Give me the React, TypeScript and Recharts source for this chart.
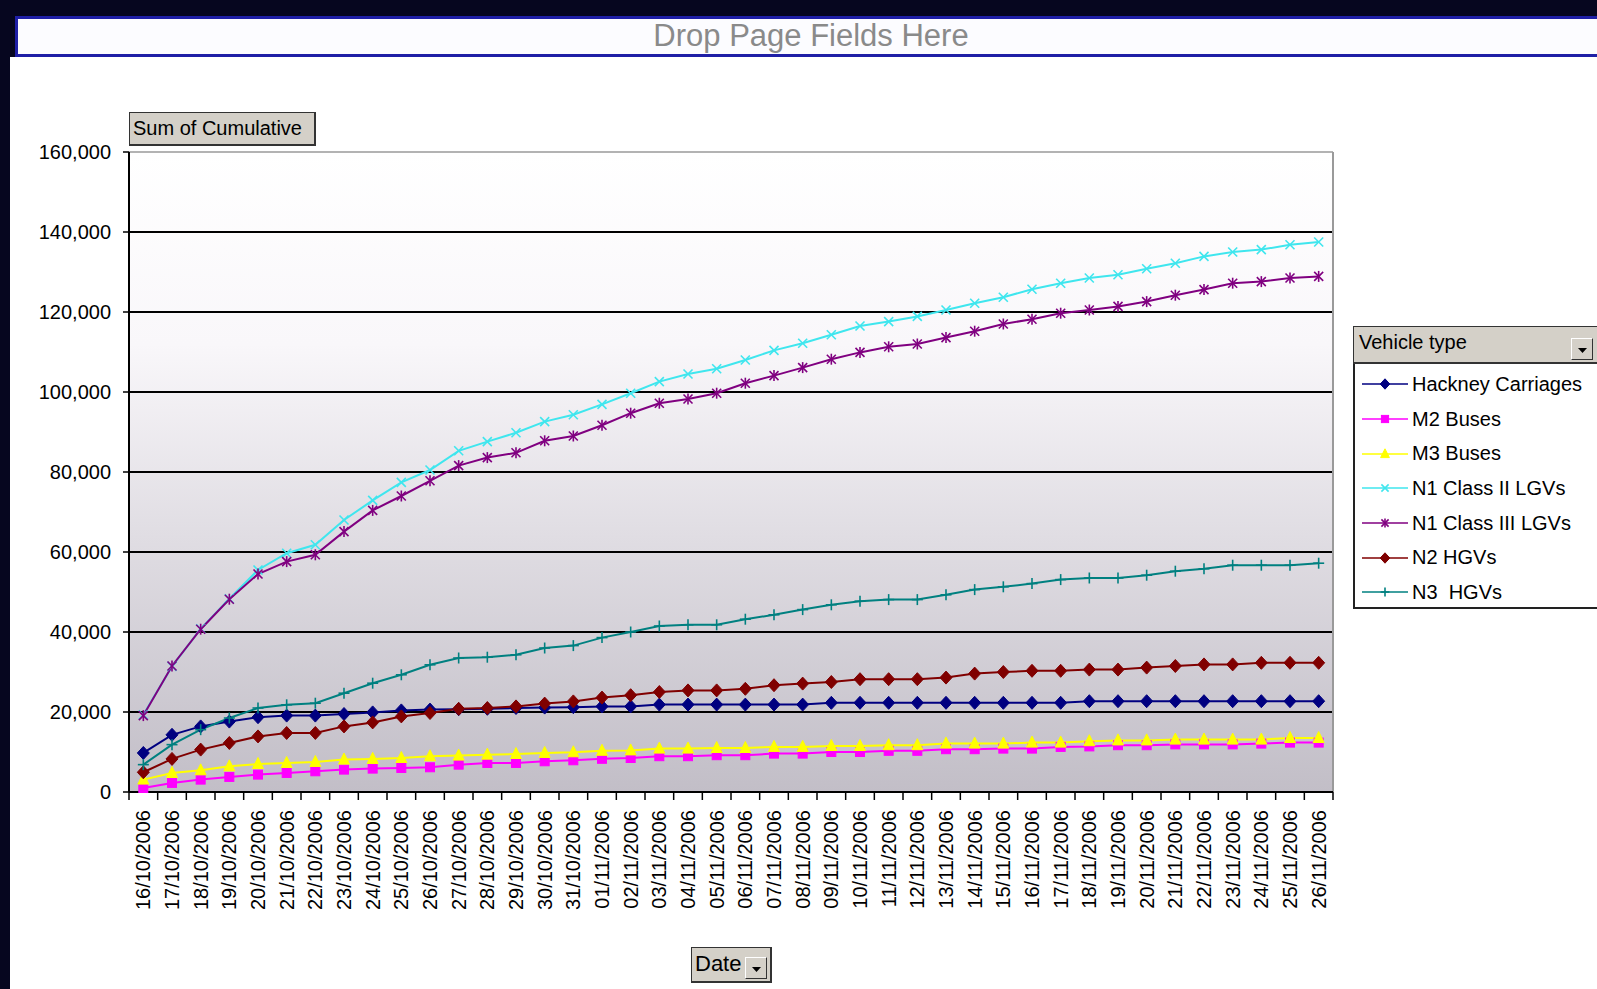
import { LineChart, Line, XAxis, YAxis, CartesianGrid, ReferenceLine } from "recharts";

// categories
const DATES = [
  "16/10/2006", "17/10/2006", "18/10/2006", "19/10/2006", "20/10/2006", "21/10/2006", "22/10/2006",
  "23/10/2006", "24/10/2006", "25/10/2006", "26/10/2006", "27/10/2006", "28/10/2006", "29/10/2006",
  "30/10/2006", "31/10/2006", "01/11/2006", "02/11/2006", "03/11/2006", "04/11/2006", "05/11/2006",
  "06/11/2006", "07/11/2006", "08/11/2006", "09/11/2006", "10/11/2006", "11/11/2006", "12/11/2006",
  "13/11/2006", "14/11/2006", "15/11/2006", "16/11/2006", "17/11/2006", "18/11/2006", "19/11/2006",
  "20/11/2006", "21/11/2006", "22/11/2006", "23/11/2006", "24/11/2006", "25/11/2006", "26/11/2006",
];

// series values (Sum of Cumulative)
const HACKNEY = [
  9760, 14300, 16400, 17600, 18700, 19100, 19100, 19500, 19900, 20400, 20600, 20700, 20800, 21000,
  21100, 21200, 21400, 21400, 21850, 21850, 21850, 21850, 21850, 21850, 22300, 22300, 22300, 22300,
  22300, 22300, 22300, 22300, 22300, 22700, 22700, 22700, 22700, 22700, 22700, 22700, 22700, 22700,
];
const M2_BUSES = [
  1000, 2270, 3100, 3770, 4350, 4760, 5180, 5600, 5850, 6010, 6180, 6840, 7260, 7260,
  7680, 7930, 8300, 8500, 8950, 8950, 9200, 9200, 9600, 9600, 10000, 10000, 10300, 10300,
  10700, 10700, 10850, 10850, 11270, 11400, 11700, 11700, 11900, 11900, 11900, 12100, 12350, 12350,
];
const M3_BUSES = [
  3100, 4760, 5420, 6420, 7000, 7260, 7510, 8100, 8270, 8500, 8930, 9100, 9340, 9500,
  9760, 9930, 10300, 10400, 10850, 10850, 11000, 11000, 11270, 11270, 11500, 11500, 11700, 11700,
  12100, 12100, 12100, 12350, 12350, 12700, 12900, 12900, 13100, 13100, 13100, 13100, 13500, 13500,
];
const N1_CLASS2 = [
  19300, 31400, 40800, 48300, 55500, 59700, 61800, 68000, 72900, 77400, 80500, 85300, 87600, 89800,
  92600, 94300, 96900, 99700, 102600, 104500, 105800, 108000, 110400, 112200, 114300, 116500, 117600, 118900,
  120500, 122200, 123700, 125700, 127200, 128500, 129300, 130800, 132200, 133900, 135000, 135600, 136800, 137500,
];
const N1_CLASS3 = [
  19100, 31500, 40700, 48200, 54500, 57600, 59300, 65100, 70400, 74000, 77800, 81600, 83600, 84800,
  87800, 89000, 91700, 94700, 97200, 98250, 99700, 102200, 104100, 106100, 108200, 109900, 111300, 112000,
  113600, 115200, 117000, 118200, 119700, 120500, 121400, 122600, 124200, 125600, 127200, 127600, 128500, 128900,
];
const N2_HGVS = [
  4930, 8270, 10600, 12260, 13900, 14760, 14760, 16400, 17400, 18900, 19750, 20800, 21000, 21400,
  22100, 22650, 23600, 24200, 25000, 25400, 25400, 25800, 26700, 27100, 27500, 28200, 28200, 28200,
  28600, 29600, 30000, 30300, 30300, 30600, 30600, 31100, 31500, 31900, 31900, 32300, 32300, 32300,
];
const N3_HGVS = [
  6840, 11840, 15580, 18500, 21000, 21800, 22200, 24700, 27200, 29300, 31800, 33500, 33700, 34300,
  36000, 36600, 38600, 40000, 41500, 41800, 41800, 43200, 44300, 45600, 46800, 47700, 48100, 48100,
  49300, 50600, 51300, 52100, 53100, 53500, 53500, 54200, 55200, 55800, 56700, 56700, 56700, 57200,
];

const Y_TICKS = [0, 20000, 40000, 60000, 80000, 100000, 120000, 140000, 160000];

const SERIES = [
  { key: "hackney", name: "Hackney Carriages", values: HACKNEY, color: "#000080", shape: "diamond" },
  { key: "m2", name: "M2 Buses", values: M2_BUSES, color: "#ff00ff", shape: "square" },
  { key: "m3", name: "M3 Buses", values: M3_BUSES, color: "#ffff00", shape: "triangle" },
  { key: "n1c2", name: "N1 Class II LGVs", values: N1_CLASS2, color: "#3fe6ee", shape: "x" },
  { key: "n1c3", name: "N1 Class III LGVs", values: N1_CLASS3, color: "#800080", shape: "star" },
  { key: "n2", name: "N2 HGVs", values: N2_HGVS, color: "#800000", shape: "diamond" },
  { key: "n3", name: "N3  HGVs", values: N3_HGVS, color: "#008080", shape: "plus" },
];

const data = DATES.map((d, i) => {
  const row: Record<string, number | string> = { idx: i, date: d };
  SERIES.forEach((s) => { row[s.key] = s.values[i]; });
  return row;
});

// layout
const W = 1597;
const H = 989;
const PLOT_LEFT = 129;
const PLOT_RIGHT = 1333;
const PLOT_TOP = 152;
const PLOT_BOTTOM = 792;
const Y_AXIS_W = 100;
const X_AXIS_H = 120;
const HALF_STEP = (PLOT_RIGHT - PLOT_LEFT) / DATES.length / 2;
const FONT = "'Liberation Sans', Arial, sans-serif";

function Marker({ shape, cx, cy, color, scale = 1 }: { shape: string; cx: number; cy: number; color: string; scale?: number }) {
  if (cx == null || cy == null) return null;
  const k = scale;
  switch (shape) {
    case "diamond":
      return <polygon points={`${cx},${cy - 6.5 * k} ${cx + 6 * k},${cy} ${cx},${cy + 6.5 * k} ${cx - 6 * k},${cy}`} fill={color} stroke={color} />;
    case "square":
      return <rect x={cx - 4.5 * k} y={cy - 4.5 * k} width={9 * k} height={9 * k} fill={color} stroke={color} />;
    case "triangle":
      return <polygon points={`${cx},${cy - 6.5 * k} ${cx + 5.5 * k},${cy + 4.5 * k} ${cx - 5.5 * k},${cy + 4.5 * k}`} fill={color} stroke={color} />;
    case "x":
      return (
        <g stroke={color} strokeWidth={1.6}>
          <line x1={cx - 4.5 * k} y1={cy - 4.5 * k} x2={cx + 4.5 * k} y2={cy + 4.5 * k} />
          <line x1={cx - 4.5 * k} y1={cy + 4.5 * k} x2={cx + 4.5 * k} y2={cy - 4.5 * k} />
        </g>
      );
    case "star":
      return (
        <g stroke={color} strokeWidth={1.6}>
          <line x1={cx - 4.5 * k} y1={cy - 4.5 * k} x2={cx + 4.5 * k} y2={cy + 4.5 * k} />
          <line x1={cx - 4.5 * k} y1={cy + 4.5 * k} x2={cx + 4.5 * k} y2={cy - 4.5 * k} />
          <line x1={cx} y1={cy - 5.5 * k} x2={cx} y2={cy + 5.5 * k} />
        </g>
      );
    case "plus":
      return (
        <g stroke={color} strokeWidth={1.6}>
          <line x1={cx - 5.5 * k} y1={cy} x2={cx + 5.5 * k} y2={cy} />
          <line x1={cx} y1={cy - 5.5 * k} x2={cx} y2={cy + 5.5 * k} />
        </g>
      );
    default:
      return null;
  }
}

function DateTick(props: any) {
  const { x, y, payload } = props;
  const i = payload.value as number;
  return (
    <g>
      <line x1={x - HALF_STEP} x2={x - HALF_STEP} y1={y} y2={y + 8} stroke="#000" strokeWidth={1.5} />
      {i === DATES.length - 1 && (
        <line x1={x + HALF_STEP} x2={x + HALF_STEP} y1={y} y2={y + 8} stroke="#000" strokeWidth={1.5} />
      )}
      <text
        transform={`translate(${x + 7},${y + 18}) rotate(-90)`}
        textAnchor="end"
        fontSize={20}
        fontFamily={FONT}
        fill="#000"
      >
        {DATES[i]}
      </text>
    </g>
  );
}

function DropArrow({ right, top, size }: { right: number; top: number; size: number }) {
  return (
    <div
      style={{
        position: "absolute", right, top, width: size, height: size, boxSizing: "border-box",
        background: "#d4d0c8", borderTop: "1px solid #fff", borderLeft: "1px solid #fff",
        borderRight: "1px solid #333", borderBottom: "1px solid #333",
      }}
    >
      <svg width={size - 2} height={size - 2} style={{ display: "block" }}>
        <polygon points={`${size / 2 - 5},${size / 2 - 2} ${size / 2 + 4},${size / 2 - 2} ${size / 2 - 0.5},${size / 2 + 3}`} fill="#000" />
      </svg>
    </div>
  );
}

function VehicleLegend() {
  return (
    <div style={{ position: "absolute", left: 1353, top: 326, width: 246, fontFamily: FONT, fontSize: 20, color: "#000" }}>
      <div
        style={{
          height: 38, background: "#d4d0c8", border: "1px solid #333", borderRightWidth: 2, borderBottomWidth: 2,
          position: "relative", boxSizing: "border-box", paddingLeft: 5, lineHeight: "31px",
        }}
      >
        Vehicle type
        <DropArrow right={4} top={11} size={22} />
      </div>
      <div style={{ background: "#fff", border: "2px solid #222", borderTop: "none", padding: "3px 0 4px 0", boxSizing: "border-box", height: 245 }}>
        {SERIES.map((s) => (
          <div key={s.key} style={{ height: 34.7, display: "flex", alignItems: "center" }}>
            <svg width={57} height={20} style={{ flex: "none" }}>
              <line x1={7} x2={53} y1={10} y2={10} stroke={s.color} strokeWidth={1.5} />
              <Marker shape={s.shape} cx={30} cy={10} color={s.color} scale={0.8} />
            </svg>
            <span style={{ whiteSpace: "pre" }}>{s.name}</span>
          </div>
        ))}
      </div>
    </div>
  );
}

export default function App() {
  return (
    <div style={{ position: "absolute", left: 0, top: 0, width: W, height: H, overflow: "hidden", background: "#fff", fontFamily: FONT }}>
      {/* dark frame */}
      <div style={{ position: "absolute", left: 0, top: 0, width: W, height: 16, background: "#06061f" }} />
      <div style={{ position: "absolute", left: 0, top: 0, width: 10, height: H, background: "#06061f" }} />
      <div style={{ position: "absolute", left: 10, top: 16, width: 5, height: 41, background: "#06061f" }} />

      {/* page field drop zone */}
      <div
        style={{
          position: "absolute", left: 15, top: 16, width: 1592, height: 41, boxSizing: "border-box",
          border: "3px solid #1f1fa6", background: "#fcfcff", color: "#8a8a8a", fontSize: 31,
          textAlign: "center", lineHeight: "34px",
        }}
      >
        Drop Page Fields Here
      </div>

      <LineChart
        width={W}
        height={H}
        data={data}
        style={{ position: "absolute", left: 0, top: 0 }}
        margin={{ top: PLOT_TOP, right: W - PLOT_RIGHT, bottom: H - PLOT_BOTTOM - X_AXIS_H, left: PLOT_LEFT - Y_AXIS_W }}
      >
        <defs>
          <linearGradient id="plotBg" x1="0" y1="0" x2="0" y2="1">
            <stop offset="0%" stopColor="#ffffff" />
            <stop offset="30%" stopColor="#f9f7fa" />
            <stop offset="60%" stopColor="#e0dde3" />
            <stop offset="100%" stopColor="#c2bec7" />
          </linearGradient>
        </defs>
        <CartesianGrid horizontal={false} vertical={false} stroke="none" fill="url(#plotBg)" />
        <XAxis
          dataKey="idx"
          type="number"
          domain={[-0.5, DATES.length - 0.5]}
          ticks={DATES.map((_, i) => i)}
          interval={0}
          height={X_AXIS_H}
          tickSize={0}
          tickMargin={0}
          tickLine={false}
          axisLine={{ stroke: "#000", strokeWidth: 2 }}
          tick={<DateTick />}
          allowDataOverflow
        />
        <YAxis
          domain={[0, 160000]}
          ticks={Y_TICKS}
          interval={0}
          width={Y_AXIS_W}
          tickSize={6}
          tickMargin={12}
          tickLine={{ stroke: "#000", strokeWidth: 1.5 }}
          axisLine={{ stroke: "#000", strokeWidth: 2 }}
          tick={{ fill: "#000", fontSize: 20, fontFamily: FONT }}
          tickFormatter={(v: number) => v.toLocaleString("en-US")}
        />
        {Y_TICKS.slice(1, -1).map((v) => (
          <ReferenceLine key={v} y={v} stroke="#000" strokeWidth={2} />
        ))}
        <ReferenceLine y={160000} stroke="#9a9a9a" strokeWidth={1.5} />
        <ReferenceLine x={DATES.length - 0.5} stroke="#9a9a9a" strokeWidth={2} />
        {SERIES.map((s) => (
          <Line
            key={s.key}
            dataKey={s.key}
            name={s.name}
            type="linear"
            stroke={s.color}
            strokeWidth={2}
            isAnimationActive={false}
            activeDot={false}
            dot={(p: any) => <Marker key={`${s.key}-${p.index}`} shape={s.shape} cx={p.cx} cy={p.cy} color={s.color} />}
          />
        ))}
      </LineChart>

      <VehicleLegend />

      {/* data field button */}
      <div
        style={{
          position: "absolute", left: 129, top: 112, width: 187, height: 34, boxSizing: "border-box",
          background: "#d4d0c8", border: "1px solid #333", borderRightWidth: 2, borderBottomWidth: 2,
          fontSize: 20, lineHeight: "31px", paddingLeft: 3, color: "#000", whiteSpace: "nowrap",
        }}
      >
        Sum of Cumulative
      </div>

      {/* category field button */}
      <div
        style={{
          position: "absolute", left: 691, top: 947, width: 81, height: 36, boxSizing: "border-box",
          background: "#d4d0c8", border: "1px solid #333", borderRightWidth: 2, borderBottomWidth: 2,
          fontSize: 22, lineHeight: "32px", paddingLeft: 3, color: "#000",
        }}
      >
        Date
        <DropArrow right={3} top={9} size={22} />
      </div>
    </div>
  );
}
